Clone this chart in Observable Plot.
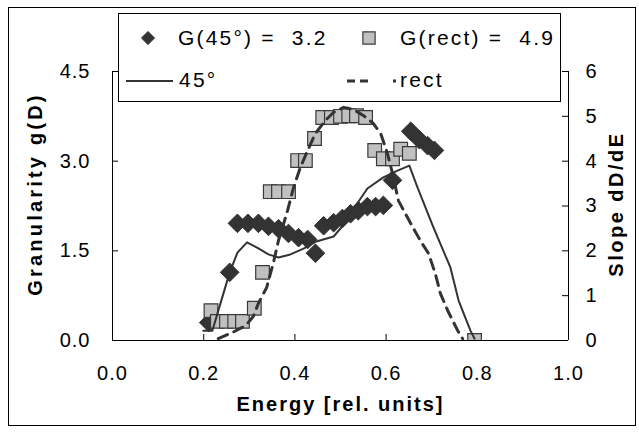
<!DOCTYPE html>
<html><head><meta charset="utf-8">
<script src="https://cdn.jsdelivr.net/npm/d3@7"></script>
<script src="https://cdn.jsdelivr.net/npm/@observablehq/plot@0.6"></script>
<style>
body{margin:0;background:#fff;}
#wrap{position:relative;width:639px;height:432px;font-family:"Liberation Sans",Arial,sans-serif;}
#legend{position:absolute;left:118px;top:13px;width:443px;height:89px;box-sizing:border-box;border:1px solid #000;background:#fff;}
#legend .t{position:absolute;font-size:21px;letter-spacing:2.2px;line-height:1;color:#000;white-space:pre;}
#legend svg{position:absolute;left:0;top:0;}
</style>
</head><body>
<div id="wrap"><div id="chart"></div><div id="legend"></div></div>
<script>
// ---- data ----
const diamondE = [0.211,0.257,0.274,0.297,0.320,0.342,0.364,0.386,0.408,0.428,0.445,0.463,0.485,0.504,0.522,0.539,0.559,0.577,0.594,0.614,0.654,0.673,0.691,0.706];
const diamondG = [0.30,1.14,1.96,1.96,1.96,1.91,1.87,1.79,1.72,1.69,1.46,1.92,1.97,2.04,2.12,2.17,2.24,2.24,2.26,2.68,3.50,3.36,3.26,3.18];
const squareE = [0.216,0.230,0.250,0.268,0.285,0.311,0.329,0.346,0.364,0.386,0.406,0.423,0.443,0.461,0.480,0.500,0.518,0.535,0.555,0.575,0.594,0.614,0.632,0.651,0.794];
const squareG = [0.50,0.32,0.32,0.32,0.32,0.54,1.14,2.49,2.49,2.49,3.01,3.01,3.38,3.73,3.73,3.75,3.76,3.76,3.73,3.18,3.04,3.04,3.20,3.13,0.00];
const solidE = [0.199,0.219,0.257,0.274,0.295,0.317,0.342,0.364,0.390,0.419,0.447,0.485,0.515,0.537,0.559,0.594,0.625,0.651,0.669,0.704,0.741,0.759,0.785,0.794];
const solidS = [0.22,0.22,1.52,1.96,2.19,2.07,1.92,1.85,1.92,2.05,2.21,2.32,2.68,3.06,3.39,3.64,3.79,3.90,3.41,2.52,1.63,0.89,0.22,0.04];
const dashE = [0.232,0.263,0.292,0.309,0.320,0.338,0.353,0.364,0.384,0.397,0.412,0.428,0.445,0.467,0.485,0.507,0.529,0.550,0.572,0.588,0.603,0.614,0.627,0.654,0.675,0.693,0.708,0.719,0.735,0.757,0.768];
const dashS = [0.04,0.18,0.33,0.54,0.83,1.18,1.74,2.23,2.90,3.41,3.86,4.24,4.62,4.91,5.09,5.20,5.15,5.02,4.84,4.62,4.17,3.73,3.12,2.61,2.23,1.94,1.49,1.05,0.67,0.22,0.04];
const xTicks = [0, 0.2, 0.4, 0.6, 0.8, 1.0];
const leftTicks = [0, 1.5, 3.0, 4.5];
const rightTicks = [0, 1, 2, 3, 4, 5, 6];
const legendLabels = ["G(45°) =\u00a0 3.2", "G(rect) =\u00a0 4.9", "45°", "rect"];
const xTitle = "Energy [rel. units]";
const yTitle = "Granularity g(D)";
const y2Title = "Slope dD/dE";

const LEFT_MAX = 4.5, RIGHT_MAX = 6, k = LEFT_MAX / RIGHT_MAX;
const dark = "#333";

const diamonds = diamondE.map((e, i) => ({e, g: diamondG[i]}));
const squares = squareE.map((e, i) => ({e, g: squareG[i]}));
const solid = solidE.map((e, i) => ({e, v: solidS[i] * k}));
const dashed = dashE.map((e, i) => ({e, v: dashS[i] * k}));

const W = 639, H = 432, mL = 112, mR = 71, mT = 71, mB = 92;
const plotW = W - mL - mR, plotH = H - mT - mB, tick = 6;

const chart = Plot.plot({
  width: W, height: H,
  marginLeft: mL, marginRight: mR, marginTop: mT, marginBottom: mB,
  style: {fontFamily: "Liberation Sans, Arial, sans-serif", background: "#fff", color: "#000"},
  x: {domain: [0, 1]},
  y: {domain: [0, LEFT_MAX]},
  marks: [
    Plot.frame({stroke: "#000", insetLeft: -104, insetRight: -67, insetTop: -64, insetBottom: -85}),
    Plot.axisX(xTicks, {tickSize: 0, tickPadding: 25, tickFormat: d => d.toFixed(1), fontSize: 20, label: null}),
    Plot.axisY(leftTicks, {anchor: "left", tickSize: 0, tickPadding: 22, tickFormat: d => d.toFixed(1), fontSize: 20, label: null}),
    Plot.axisY(rightTicks.map(v => v * k), {anchor: "right", tickSize: 0, tickPadding: 17, tickFormat: d => String(Math.round(d / k)), fontSize: 20, label: null}),
    Plot.ruleX(xTicks, {stroke: "#000", insetTop: plotH - tick}),
    Plot.ruleY(leftTicks, {stroke: "#000", insetRight: plotW - tick}),
    Plot.ruleY(rightTicks.map(v => v * k), {stroke: "#000", insetLeft: plotW - tick}),
    Plot.dot(diamonds, {x: "e", y: "g", symbol: "diamond2", r: 8.4, fill: dark, stroke: dark, strokeWidth: 1, clip: true}),
    Plot.dot(squares, {x: "e", y: "g", symbol: "square", r: 7.7, fill: "#c0c0c0", stroke: "#3a3a3a", strokeWidth: 1.2, clip: true}),
    Plot.line(solid, {x: "e", y: "v", stroke: dark, strokeWidth: 2}),
    Plot.line(dashed, {x: "e", y: "v", stroke: dark, strokeWidth: 3, strokeDasharray: "10,7"}),
    Plot.ruleY([0], {stroke: "#000"}),
    Plot.ruleX([0], {stroke: "#000"}),
    Plot.ruleX([1], {stroke: "#000"}),
    Plot.text([xTitle], {frameAnchor: "bottom", dy: 70, fontSize: 20, fontWeight: "bold", fill: "#000", textAnchor: "middle"}),
    Plot.text([yTitle], {frameAnchor: "left", dx: -77, dy: -12, rotate: -90, fontSize: 20, fontWeight: "bold", fill: "#000", textAnchor: "middle"}),
    Plot.text([y2Title], {frameAnchor: "right", dx: 48, dy: -2, rotate: -90, fontSize: 20, fontWeight: "bold", fill: "#000", textAnchor: "middle"})
  ]
});
document.getElementById("chart").appendChild(chart);

// letter spacing to match the wide glyphs of the reference
d3.select(chart).selectAll("text").each(function() {
  const t = this.textContent;
  let ls = 1;
  if (t === xTitle) ls = 2;
  else if (t === yTitle) ls = 3.2;
  else if (t === y2Title) ls = 2.5;
  d3.select(this).attr("letter-spacing", ls);
});

// legend (inside the plot area, like the reference)
const leg = document.getElementById("legend");
const ox = 119, oy = 14; // inner origin of legend box in page coords
const ls = d3.select(leg).append("svg").attr("width", 441).attr("height", 87);
const sym = (type, size) => d3.symbol(type, size)();
ls.append("path").attr("d", sym(d3.symbolDiamond2, 110)).attr("transform", `translate(${148-ox},${38-oy})`).attr("fill", dark).attr("stroke", dark);
ls.append("path").attr("d", sym(d3.symbolSquare, 150)).attr("transform", `translate(${369-ox},${38-oy})`).attr("fill", "#c0c0c0").attr("stroke", "#3a3a3a").attr("stroke-width", 1.2);
ls.append("line").attr("x1", 126-ox).attr("x2", 173-ox).attr("y1", 81-oy).attr("y2", 81-oy).attr("stroke", dark).attr("stroke-width", 2);
ls.append("line").attr("x1", 347-ox).attr("x2", 396-ox).attr("y1", 81-oy).attr("y2", 81-oy).attr("stroke", dark).attr("stroke-width", 3).attr("stroke-dasharray", "8,5,8,25,3");
const addText = (txt, x, yc) => {
  const s = document.createElement("span");
  s.className = "t"; s.textContent = txt;
  s.style.left = (x - ox) + "px"; s.style.top = (yc - oy - 11) + "px";
  leg.appendChild(s);
};
addText(legendLabels[0], 178, 38);
addText(legendLabels[1], 400, 38);
addText(legendLabels[2], 179, 80);
addText(legendLabels[3], 400, 80);
</script>
</body></html>
